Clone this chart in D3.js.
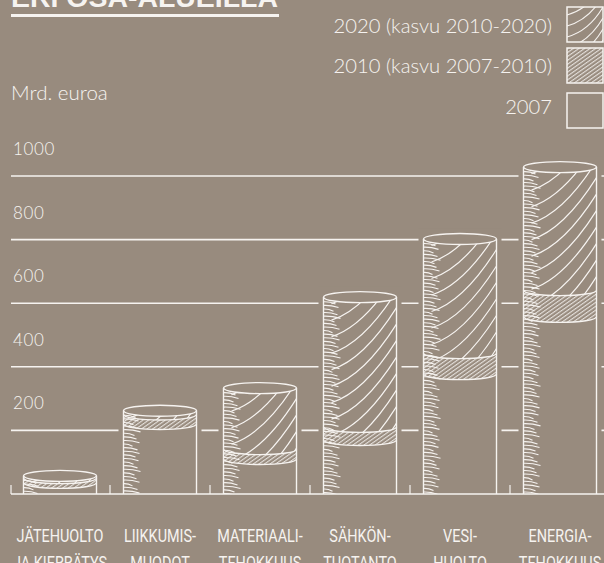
<!DOCTYPE html>
<html>
<head>
<meta charset="utf-8">
<script src="https://cdn.jsdelivr.net/npm/d3@7"></script>
<style>
  html, body { margin: 0; padding: 0; background: #988b7e; }
  svg { display: block; }
</style>
</head>
<body>
<svg id="chart" width="604" height="563"></svg>
<script>
// values (Mrd. euroa)
let categories = [
  ['JÄTEHUOLTO', 'JA KIERRÄTYS'],
  ['LIIKKUMIS-', 'MUODOT'],
  ['MATERIAALI-', 'TEHOKKUUS'],
  ['SÄHKÖN-', 'TUOTANTO'],
  ['VESI-', 'HUOLTO'],
  ['ENERGIA-', 'TEHOKKUUS']
];
let values2007 = [35, 220, 110, 170, 377, 557];
let values2010 = [50, 250, 141, 211, 443, 641];
let values2020 = [57, 262, 333, 619, 802, 1028];
let y_ticks = [200, 400, 600, 800, 1000];
let legend_labels = ['2020 (kasvu 2010-2020)', '2010 (kasvu 2007-2010)', '2007'];

let bg = '#988b7e';
let ink = '#f6f3f0';
let base_y = 494;
let ry = 5.5;

let svg = d3.select('#chart');

let x = d3.scaleBand()
  .domain(d3.range(categories.length))
  .range([10, 610]);

let y = d3.scaleLinear()
  .domain([0, 1000])
  .range([base_y, 176]);

let bar_w = x.bandwidth() * 0.73;

// hatch patterns
let defs = svg.append('defs');
let fine = defs.append('pattern')
  .attr('id', 'fine-hatch')
  .attr('patternUnits', 'userSpaceOnUse')
  .attr('width', 3.2)
  .attr('height', 10)
  .attr('patternTransform', 'rotate(55)');
fine.append('line')
  .attr('x1', 0.6).attr('y1', 0).attr('x2', 0.6).attr('y2', 10)
  .attr('stroke', ink).attr('stroke-width', 0.9);

// title, cut by the top edge
svg.append('text')
  .attr('x', 11)
  .attr('y', 7)
  .attr('textLength', 267)
  .attr('lengthAdjust', 'spacingAndGlyphs')
  .style('font-family', 'Liberation Sans, Arial, sans-serif')
  .style('font-weight', 'bold')
  .style('font-size', '28px')
  .style('fill', ink)
  .text('ERI OSA-ALUEILLA');
svg.append('rect')
  .attr('x', 11).attr('y', 14)
  .attr('width', 268).attr('height', 3)
  .attr('fill', ink);

svg.append('text')
  .attr('x', 11)
  .attr('y', 100)
  .style('font-family', 'Lato, sans-serif')
  .style('font-weight', 300)
  .style('font-size', '20.5px')
  .style('fill', ink)
  .text('Mrd. euroa');

// grid lines + labels above them
let grid = svg.selectAll('.grid')
  .data(y_ticks)
  .enter().append('g')
  .attr('class', 'grid')
  .attr('transform', d => `translate(0, ${y(d)})`);
grid.append('line')
  .attr('x1', 11).attr('x2', 604)
  .attr('stroke', ink).attr('stroke-width', 1.6);
grid.append('text')
  .attr('x', 13)
  .attr('y', -21)
  .style('font-family', 'Lato, sans-serif')
  .style('font-weight', 300)
  .style('font-size', '17px')
  .style('letter-spacing', '0.6px')
  .style('fill', ink)
  .text(d => d);

// legend
let legend = svg.selectAll('.legend')
  .data(legend_labels)
  .enter().append('g')
  .attr('class', 'legend')
  .attr('transform', (d, i) => `translate(0, ${[7, 48, 93][i]})`);
legend.append('text')
  .attr('x', 552)
  .attr('y', (d, i) => [26, 25, 21][i])
  .style('font-family', 'Lato, sans-serif')
  .style('font-weight', 300)
  .style('font-size', '20.2px')
  .style('text-anchor', 'end')
  .style('fill', ink)
  .text(d => d);

defs.append('clipPath').attr('id', 'legend-clip-0')
  .append('rect').attr('x', 567).attr('y', 7).attr('width', 36).attr('height', 35);
let lg0 = svg.append('g').attr('clip-path', 'url(#legend-clip-0)');
d3.range(-2, 8).forEach(k => {
  let b = 7 + k * 11;
  lg0.append('path')
    .attr('d', `M567,${b + 30} Q${567 + 22},${b + 24} 603,${b}`)
    .attr('fill', 'none').attr('stroke', ink).attr('stroke-width', 1.1);
});
svg.append('rect')
  .attr('x', 567).attr('y', 48).attr('width', 36).attr('height', 35)
  .attr('fill', 'url(#fine-hatch)');
legend.append('rect')
  .attr('x', 567).attr('y', 0)
  .attr('width', 36).attr('height', 35)
  .attr('fill', 'none')
  .attr('stroke', ink)
  .attr('stroke-width', 1.5);

// cylinders
let shade_len = [15, 11, 14, 9, 13, 16, 10, 12, 15, 8, 13];

categories.forEach((cat, i) => {
  let cx = x(i) + x.bandwidth() / 2;
  let rx = bar_w / 2;
  let x0 = cx - rx, x1 = cx + rx;
  let yT = y(values2020[i]), y10 = y(values2010[i]), y07 = y(values2007[i]);
  let g = svg.append('g').attr('class', 'cylinder');

  // knock the grid lines out around the bar
  g.append('rect')
    .attr('x', x0 - 5).attr('y', yT - ry - 5)
    .attr('width', bar_w + 10).attr('height', base_y - 1 - (yT - ry - 5))
    .attr('fill', bg);

  let front = (ya, yb) => `M${x0},${ya} A${rx},${ry} 0 0 0 ${x1},${ya} L${x1},${yb} A${rx},${ry} 0 0 1 ${x0},${yb} Z`;

  defs.append('clipPath').attr('id', `c2020-${i}`)
    .append('path').attr('d', front(yT, y10));
  defs.append('clipPath').attr('id', `cbody-${i}`)
    .append('path').attr('d', `M${x0},${yT} A${rx},${ry} 0 0 0 ${x1},${yT} L${x1},${base_y} L${x0},${base_y} Z`);

  // 2010 growth: fine hatch
  g.append('path')
    .attr('d', front(y10, y07))
    .attr('fill', 'url(#fine-hatch)');

  // 2020 growth: coarse curved hatch
  let coarse = g.append('g').attr('clip-path', `url(#c2020-${i})`);
  for (let b = yT - 10; b < y10 + 80; b += 16.5) {
    coarse.append('path')
      .attr('d', `M${x0 + 8},${b} Q${x0 + bar_w * 0.55},${b - 10} ${x1},${b - 62}`)
      .attr('fill', 'none').attr('stroke', ink).attr('stroke-width', 1.2);
  }

  // shading strokes on the left side
  let shade = g.append('g').attr('clip-path', `url(#cbody-${i})`);
  let k = 0;
  for (let sy = yT + 1; sy < base_y; sy += 3.6) {
    let L = shade_len[k % shade_len.length] + 1;
    shade.append('path')
      .attr('d', `M${x0},${sy} Q${x0 + L * 0.5},${sy - 0.3} ${x0 + L},${sy + 2.2}`)
      .attr('fill', 'none').attr('stroke', ink).attr('stroke-width', 1.1);
    k++;
  }

  // outlines
  let outline = g.append('g')
    .attr('fill', 'none').attr('stroke', ink).attr('stroke-width', 1.4);
  outline.append('line').attr('x1', x0).attr('x2', x0).attr('y1', yT).attr('y2', base_y);
  outline.append('line').attr('x1', x1).attr('x2', x1).attr('y1', yT).attr('y2', base_y);
  outline.append('ellipse').attr('cx', cx).attr('cy', yT).attr('rx', rx).attr('ry', ry);
  [y10, y07].forEach(yy => {
    outline.append('path').attr('d', `M${x0},${yy} A${rx},${ry} 0 0 0 ${x1},${yy}`);
  });
});

// base line and ticks between categories
svg.append('line')
  .attr('x1', 11).attr('x2', 604)
  .attr('y1', base_y).attr('y2', base_y)
  .attr('stroke', ink).attr('stroke-width', 1.6);
svg.selectAll('.cat-tick')
  .data(d3.range(categories.length))
  .enter().append('line')
  .attr('class', 'cat-tick')
  .attr('x1', d => Math.max(11, x(d))).attr('x2', d => Math.max(11, x(d)))
  .attr('y1', base_y - 9).attr('y2', base_y)
  .attr('stroke', ink).attr('stroke-width', 1.2);

// category labels, condensed
let labels = svg.selectAll('.cat-label')
  .data(categories)
  .enter().append('g')
  .attr('class', 'cat-label');
[0, 1].forEach(line => {
  labels.append('text')
    .attr('transform', (d, i) => `translate(${x(i) + x.bandwidth() / 2}, ${542 + line * 27}) scale(0.76, 1)`)
    .style('font-family', 'Roboto, Liberation Sans, sans-serif')
    .style('font-weight', 400)
    .style('font-size', '19px')
    .style('text-anchor', 'middle')
    .style('fill', ink)
    .text(d => d[line]);
});
</script>
</body>
</html>
